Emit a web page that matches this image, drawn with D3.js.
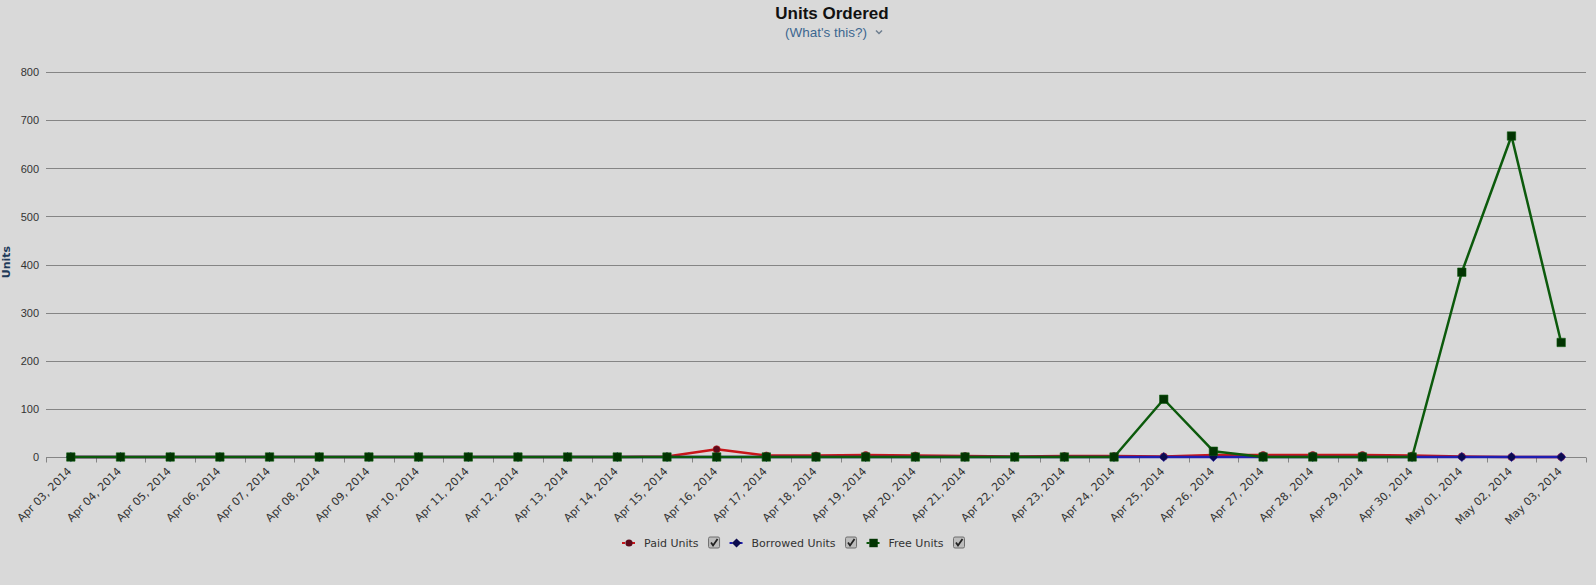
<!DOCTYPE html>
<html lang="en">
<head>
    <meta charset="UTF-8">
    <title>Units Ordered</title>
    <script src="https://cdn.jsdelivr.net/npm/d3@7"></script>
    <style>
        html, body {
            margin: 0;
            padding: 0;
            background: #d9d9d9;
        }

        svg {
            display: block;
            font-family: "DejaVu Sans", Verdana, sans-serif;
        }

        .grid line {
            stroke: #858585;
            stroke-width: 1px;
        }
    </style>
</head>
<body>
<script>
    var dates = ["Apr 03, 2014", "Apr 04, 2014", "Apr 05, 2014", "Apr 06, 2014", "Apr 07, 2014",
        "Apr 08, 2014", "Apr 09, 2014", "Apr 10, 2014", "Apr 11, 2014", "Apr 12, 2014",
        "Apr 13, 2014", "Apr 14, 2014", "Apr 15, 2014", "Apr 16, 2014", "Apr 17, 2014",
        "Apr 18, 2014", "Apr 19, 2014", "Apr 20, 2014", "Apr 21, 2014", "Apr 22, 2014",
        "Apr 23, 2014", "Apr 24, 2014", "Apr 25, 2014", "Apr 26, 2014", "Apr 27, 2014",
        "Apr 28, 2014", "Apr 29, 2014", "Apr 30, 2014", "May 01, 2014", "May 02, 2014",
        "May 03, 2014"];

    var paidUnits = [0, 0, 0, 0, 0, 0, 0, 0, 0, 0, 0, 0,
        1, 16, 3, 3, 4, 3, 2, 1, 2, 2, 1, 4, 4, 4, 4, 3, 1, 0, 0];
    var borrowedUnits = [0, 0, 0, 0, 0, 0, 0, 0, 0, 0, 0, 0, 0, 0, 0, 0,
        0, 0, 0, 0, 0, 0, 0, 0, 0, 0, 0, 0, 0, 0, 0];
    var freeUnits = [0, 0, 0, 0, 0, 0, 0, 0, 0, 0, 0, 0, 0, 0, 0, 0,
        0, 0, 0, 0, 0, 0, 120, 12, 0, 0, 0, 0, 384, 667, 238];

    var yTicks = [0, 100, 200, 300, 400, 500, 600, 700, 800];

    var width = 1596;
    var height = 585;
    var padding = {top: 72, right: 10, bottom: 128, left: 46};

    // highcharts-like marker shapes, r = half size
    var shapes = {
        circle: function (r) {
            return d3.symbol().type(d3.symbolCircle).size(Math.PI * r * r)();
        },
        diamond: function (r) {
            return "M0," + (-r) + "L" + r + ",0L0," + r + "L" + (-r) + ",0Z";
        },
        square: function (r) {
            return "M" + (-r) + "," + (-r) + "H" + r + "V" + r + "H" + (-r) + "Z";
        }
    };

    var series = [
        {name: "Paid Units", values: paidUnits, line: "#c8161a", fill: "#5c0a1a", shape: "circle", r: 3.6},
        {name: "Borrowed Units", values: borrowedUnits, line: "#1f1fb0", fill: "#0b0b4e", shape: "diamond", r: 4.6},
        {name: "Free Units", values: freeUnits, line: "#0c5a0c", fill: "#023402", shape: "square", r: 4.2}
    ];

    var svg = d3.select("body")
            .append("svg")
            .attr("width", width)
            .attr("height", height);

    var x = d3.scalePoint()
            .domain(dates)
            .range([padding.left, width - padding.right])
            .padding(0.5);

    var y = d3.scaleLinear()
            .domain([0, 800])
            .range([height - padding.bottom, padding.top]);

    // title
    svg.append("text")
            .attr("x", 832)
            .attr("y", 19)
            .attr("text-anchor", "middle")
            .style("font-family", "'Liberation Sans', Arial, sans-serif")
            .style("font-size", "17px")
            .style("font-weight", "bold")
            .style("fill", "#111")
            .text("Units Ordered");

    svg.append("text")
            .attr("x", 826)
            .attr("y", 37)
            .attr("text-anchor", "middle")
            .style("font-family", "'Liberation Sans', Arial, sans-serif")
            .style("font-size", "13.5px")
            .style("fill", "#3d6790")
            .text("(What's this?)");

    svg.append("path")
            .attr("d", "M876,30.5 L879,33.5 L882,30.5")
            .attr("fill", "none")
            .attr("stroke", "#6f7f90")
            .attr("stroke-width", 1.5);

    // gridlines
    svg.append("g")
            .attr("class", "grid")
            .selectAll("line")
            .data(yTicks.filter(function (d) {
                return d > 0;
            }))
            .enter()
            .append("line")
            .attr("x1", padding.left)
            .attr("x2", width - padding.right)
            .attr("y1", function (d) {
                return Math.round(y(d)) + 0.5;
            })
            .attr("y2", function (d) {
                return Math.round(y(d)) + 0.5;
            });

    // y axis
    var yAxis = svg.append("g")
            .attr("transform", "translate(" + (padding.left - 7) + ",0)")
            .call(d3.axisLeft(y).tickValues(yTicks).tickSize(0).tickPadding(0));
    yAxis.select(".domain").remove();
    yAxis.selectAll("text")
            .style("font-size", "11px")
            .style("fill", "#333")
            .attr("dy", "0.35em")
            .attr("x", 0);

    svg.append("text")
            .attr("transform", "translate(10,262) rotate(-90)")
            .attr("text-anchor", "middle")
            .style("font-size", "11px")
            .style("font-weight", "bold")
            .style("fill", "#1f3b5a")
            .text("Units");

    // x axis: baseline and ticks between categories
    var step = x.step();
    var xAxis = svg.append("g")
            .attr("transform", "translate(0," + (Math.round(y(0)) + 0.5) + ")");
    xAxis.append("line")
            .attr("x1", padding.left)
            .attr("x2", width - padding.right)
            .attr("stroke", "#858585");
    xAxis.selectAll(".xt")
            .data(dates.concat(["end"]))
            .enter()
            .append("line")
            .attr("class", "xt")
            .attr("x1", function (d, i) {
                return Math.round(padding.left + i * step) + 0.5;
            })
            .attr("x2", function (d, i) {
                return Math.round(padding.left + i * step) + 0.5;
            })
            .attr("y1", 0)
            .attr("y2", 5)
            .attr("stroke", "#858585");
    xAxis.selectAll(".xl")
            .data(dates)
            .enter()
            .append("text")
            .attr("class", "xl")
            .attr("transform", function (d) {
                return "translate(" + (x(d) - 4) + ",9) rotate(-45)";
            })
            .attr("text-anchor", "end")
            .attr("dy", "0.7em")
            .style("font-size", "11px")
            .style("fill", "#333")
            .text(function (d) {
                return d;
            });

    // series
    var line = d3.line()
            .x(function (d, i) {
                return x(dates[i]);
            })
            .y(function (d) {
                return y(d);
            });

    series.forEach(function (s) {
        var g = svg.append("g");
        g.append("path")
                .datum(s.values)
                .attr("d", line)
                .attr("fill", "none")
                .attr("stroke", s.line)
                .attr("stroke-width", 2.5)
                .attr("stroke-linejoin", "round");
        g.selectAll("path.mk")
                .data(s.values)
                .enter()
                .append("path")
                .attr("class", "mk")
                .attr("transform", function (d, i) {
                    return "translate(" + x(dates[i]) + "," + y(d) + ")";
                })
                .attr("d", shapes[s.shape](s.r))
                .attr("fill", s.fill)
                .attr("stroke", s.line)
                .attr("stroke-width", 0.6);
    });

    // legend
    var legend = svg.append("g")
            .attr("transform", "translate(622,543)");
    var lx = 0;
    series.forEach(function (s) {
        var item = legend.append("g").attr("transform", "translate(" + lx + ",0)");
        item.append("line")
                .attr("x1", 0)
                .attr("x2", 14)
                .attr("stroke", s.line)
                .attr("stroke-width", 2)
                .attr("stroke-dasharray", "3,2");
        item.append("path")
                .attr("transform", "translate(7,0)")
                .attr("d", shapes[s.shape](s.r))
                .attr("fill", s.fill);
        var t = item.append("text")
                .attr("x", 22)
                .attr("dy", "0.35em")
                .style("font-size", "11px")
                .style("fill", "#333")
                .text(s.name);
        var tw = t.node().getComputedTextLength();
        var cx = 22 + tw + 10;
        item.append("rect")
                .attr("x", cx)
                .attr("y", -6)
                .attr("width", 11)
                .attr("height", 11)
                .attr("rx", 1.5)
                .attr("fill", "#bdbdbd")
                .attr("stroke", "#6f6f6f");
        item.append("path")
                .attr("d", "M" + (cx + 2.5) + ",-0.5 L" + (cx + 4.5) + ",2.5 L" + (cx + 9) + ",-4")
                .attr("fill", "none")
                .attr("stroke", "#222")
                .attr("stroke-width", 1.8);
        lx += cx + 11 + 10;
    });
</script>
</body>
</html>
